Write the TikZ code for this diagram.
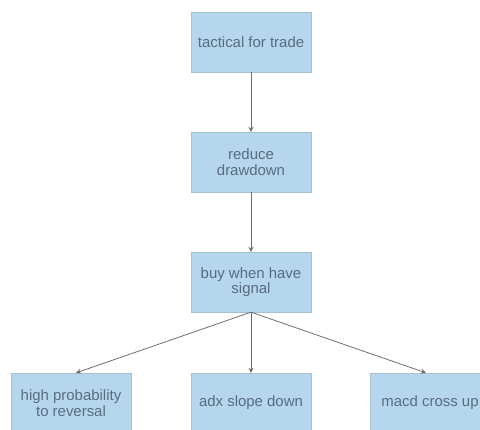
\documentclass[tikz,border=0pt]{standalone}
\usepackage{fontspec}
\setmainfont{Liberation Sans}
\usetikzlibrary{arrows.meta,calc}
\definecolor{boxfill}{RGB}{182,214,237}
\definecolor{boxtext}{RGB}{88,108,128}
\definecolor{arrowcol}{RGB}{115,108,108}
\tikzset{
  flowbox/.style={rectangle, fill=boxfill, draw=boxfill!90!black, line width=0.3bp,
    minimum width=120bp, minimum height=60bp, inner sep=1bp, align=center,
    text=boxtext, font=\fontsize{15}{15.5}\selectfont},
  link/.style={draw=arrowcol, line width=0.8bp, -{Stealth[length=5bp,width=5bp]}}
}
\begin{document}
\begin{tikzpicture}[x=1bp,y=-1bp]
\useasboundingbox (0,0) rectangle (480,429);
\clip (0,0) rectangle (480,429);
\node[flowbox] (a) at (251,42) {tactical for trade};
\node[flowbox] (b) at (251,162) {reduce\\drawdown};
\node[flowbox] (c) at (251,282) {buy when have\\signal};
\node[flowbox] (d) at (71,403) {high probability\\to reversal};
\node[flowbox] (e) at (251,403) {adx slope down};
\node[flowbox] (f) at (430,403) {macd cross up};
\draw[link] (a.south) -- (b.north);
\draw[link] (b.south) -- (c.north);
\draw[link] (c.south) -- ($(d.north)+(5,0)$);
\draw[link] (c.south) -- (e.north);
\draw[link] (c.south) -- ($(f.north)+(-4,0)$);
\end{tikzpicture}
\end{document}
